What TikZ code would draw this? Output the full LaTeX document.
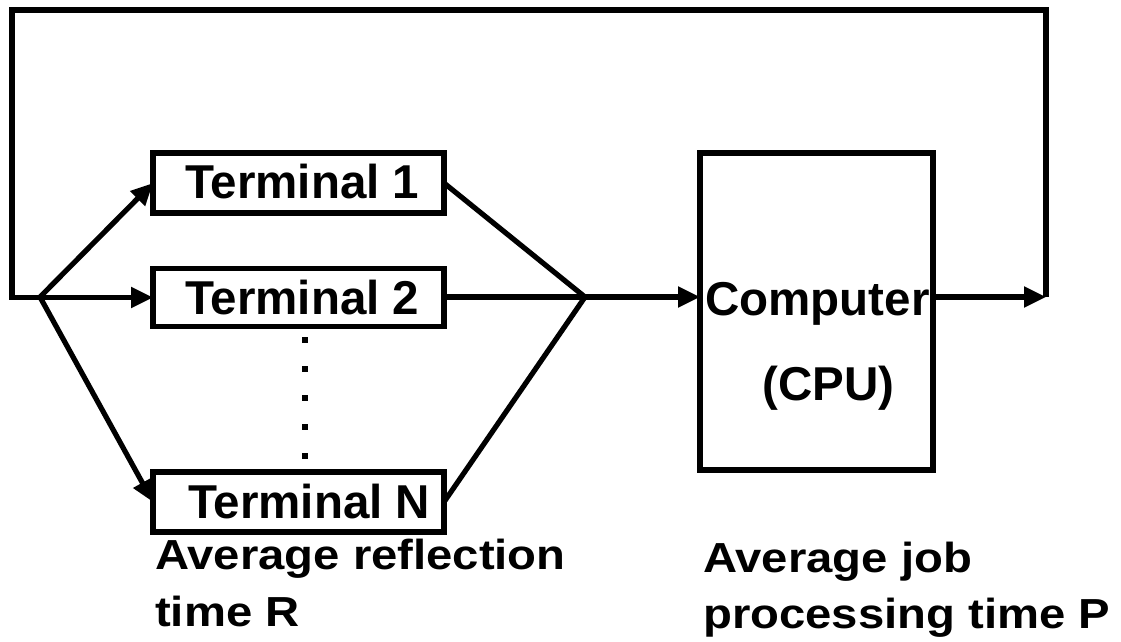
\documentclass[tikz,border=0pt]{standalone}
\usepackage{fontspec}
\setmainfont{Liberation Sans}
\usetikzlibrary{arrows.meta}
\newcommand{\bigfont}{\fontsize{47.5}{56}\selectfont\bfseries}
\newcommand{\capfont}{\fontsize{42}{50}\selectfont\bfseries}
\tikzset{
  box/.style={draw, line width=5.5pt, minimum width=#1, inner sep=0pt, outer sep=0pt},
  wire/.style={line width=5.2pt, line cap=butt},
  conn/.style={wire, -{Triangle[length=22pt,width=20pt]}},
  txt/.style={anchor=base west, inner sep=0pt, font=\bigfont},
  captxt/.style={anchor=base west, inner sep=0pt, font=\capfont, xscale=1.125, transform shape},
  dotmark/.style={fill=black, minimum size=6pt, inner sep=0pt}
}
\begin{document}
\begin{tikzpicture}[x=1pt, y=-1pt]
\useasboundingbox (0,0) rectangle (1121,641);

% terminal boxes
\node[box=291pt, minimum height=60pt] (t1box) at (298.5,183) {};
\node[box=291pt, minimum height=58pt] (t2box) at (298.5,297.5) {};
\node[box=291pt, minimum height=60pt] (tnbox) at (298.5,502) {};
\node[txt] (t1) at (185,198) {Terminal 1};
\node[txt] (t2) at (185,314) {Terminal 2};
\node[txt] (tn) at (188,518) {Terminal N};

% vertical ellipsis between terminal 2 and terminal N
\foreach \i/\yy in {1/340,2/369,3/398,4/427,5/456}
  \node[dotmark] (d\i) at (304.5,\yy) {};

% computer box
\node[box=233pt, minimum height=317pt] (cpubox) at (816.5,311.5) {};
\node[txt] (cpu1) at (705,315) {Computer};
\node[txt] (cpu2) at (762,400) {(CPU)};

% routing points
\coordinate (fork) at (40,297);
\coordinate (merge) at (585,297);
\coordinate (ret) at (1046,297);
\coordinate (tr) at (1046,10);
\coordinate (tl) at (12,10);

% fan-out to terminals
\draw[conn] (fork) -- (t1box.west);
\draw[conn] (fork) -- (tnbox.west);

% feedback loop into terminal 2
\draw[conn, line join=miter] (ret) -- (tr) -- (tl) |- (t2box.west);

% fan-in to the computer
\draw[wire] (t1box.east) -- (merge);
\draw[wire] (t2box.east |- merge) -- (merge);
\draw[wire] (tnbox.east) -- (merge);
\draw[conn] (merge) -- (merge -| cpubox.west);
\draw[conn] (cpubox.east |- ret) -- (ret);

% captions
\node[captxt] (capl1) at (155,569) {Average reflection};
\node[captxt] (capl2) at (155,626) {time R};
\node[captxt] (capr1) at (703,572) {Average job};
\node[captxt] (capr2) at (703,628) {processing time P};
\end{tikzpicture}
\end{document}
